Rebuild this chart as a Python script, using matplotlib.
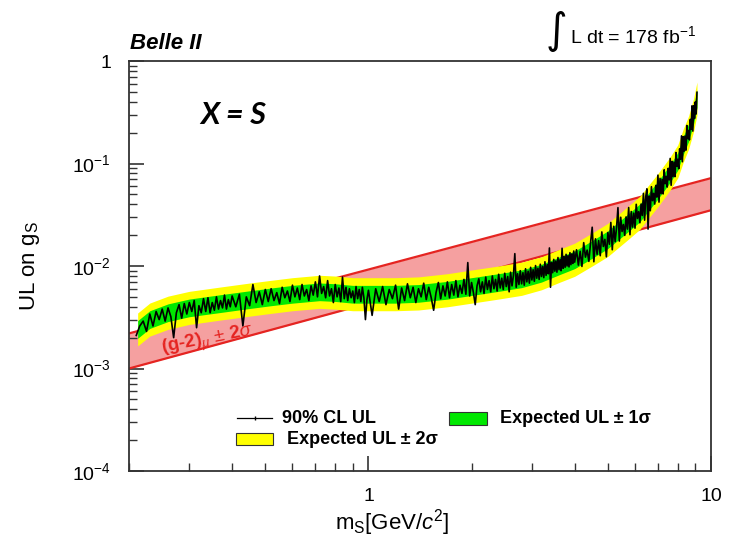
import matplotlib
matplotlib.use("Agg")
import matplotlib.pyplot as plt
from matplotlib.lines import Line2D
from matplotlib.patches import Rectangle
from matplotlib.ticker import FixedLocator, FixedFormatter, NullFormatter

plt.rcParams['font.family'] = ['Liberation Sans', 'DejaVu Sans']
plt.rcParams['mathtext.fontset'] = 'custom'
plt.rcParams['mathtext.rm'] = 'Liberation Sans'
plt.rcParams['mathtext.it'] = 'Liberation Sans:italic'
plt.rcParams['mathtext.bf'] = 'Liberation Sans:bold'

# (g-2)_mu +- 2 sigma band, edges read at the two ends of the plot
g2_mass = [0.2, 10.0]
g2_lo = [1.0e-3, 0.035]
g2_hi = [2.2e-3, 0.072]

# expected UL bands (units of 1e-3)
exp_mass = [0.212, 0.23, 0.26, 0.30, 0.37, 0.45, 0.52, 0.60, 0.72, 0.80, 0.90, 1.0,
            1.2, 1.4, 1.7, 2.0, 2.4, 2.8, 3.2, 3.6, 4.0, 4.5, 5.0, 5.7, 6.2, 6.6,
            7.0, 7.6, 8.0, 8.3, 8.6, 8.9, 9.1]
exp_1s_lo = [1.97, 2.46, 2.87, 3.20, 3.52, 3.85, 4.10, 4.34, 4.59, 4.51, 4.34, 4.34,
             4.34, 4.43, 4.75, 5.16, 5.66, 6.15, 6.97, 8.20, 9.43, 11.9, 14.8, 21.3, 27.0, 35.2,
             45.1, 65.6, 86.1, 123, 164, 246, 352]
exp_1s_hi = [2.93, 3.66, 4.27, 4.76, 5.25, 5.73, 6.10, 6.47, 6.83, 6.71, 6.47, 6.47,
             6.47, 6.59, 7.08, 7.69, 8.42, 9.15, 10.4, 12.2, 14.0, 17.7, 22.0, 31.7, 40.3, 52.5,
             67.1, 97.6, 128, 183, 244, 366, 525]
exp_2s_lo = [1.66, 2.07, 2.41, 2.69, 2.97, 3.24, 3.45, 3.66, 3.86, 3.79, 3.66, 3.66,
             3.66, 3.72, 4.00, 4.34, 4.76, 5.17, 5.86, 6.90, 7.93, 10.0, 12.4, 17.9, 22.8, 29.7,
             37.9, 55.2, 72.4, 103, 138, 207, 297]
exp_2s_hi = [3.48, 4.35, 5.08, 5.66, 6.24, 6.82, 7.25, 7.69, 8.12, 7.98, 7.69, 7.69,
             7.69, 7.83, 8.41, 9.14, 10.0, 10.9, 12.3, 14.5, 16.7, 21.0, 26.1, 37.7, 47.9, 62.4,
             79.8, 116, 152, 218, 290, 435, 624]

# observed 90% CL UL (units of 1e-3)
obs_mass = [
    # 0.21 - 0.40
    0.210, 0.215, 0.220, 0.225, 0.230, 0.235, 0.240, 0.245, 0.250, 0.255,
    0.260, 0.265, 0.270, 0.275, 0.280, 0.285, 0.290, 0.295, 0.300, 0.305,
    0.310, 0.315, 0.320, 0.325, 0.330, 0.335, 0.340, 0.345, 0.350, 0.355,
    0.360, 0.365, 0.370, 0.375, 0.380, 0.385, 0.390, 0.395, 0.400,
    # 0.41 - 1.00
    0.41, 0.42, 0.43, 0.44, 0.45, 0.46, 0.47, 0.48, 0.49, 0.50,
    0.51, 0.52, 0.53, 0.54, 0.55, 0.56, 0.57, 0.58, 0.59, 0.60,
    0.61, 0.62, 0.63, 0.64, 0.65, 0.66, 0.67, 0.68, 0.69, 0.70,
    0.71, 0.72, 0.73, 0.74, 0.75, 0.76, 0.77, 0.78, 0.79, 0.80,
    0.81, 0.82, 0.83, 0.84, 0.85, 0.86, 0.87, 0.88, 0.89, 0.90,
    0.91, 0.92, 0.93, 0.94, 0.95, 0.96, 0.97, 0.98, 0.99, 1.00,
    # 1.025 - 4.00
    1.025, 1.050, 1.075, 1.100, 1.125, 1.150, 1.175, 1.200, 1.225, 1.250,
    1.275, 1.300, 1.325, 1.350, 1.375, 1.400, 1.425, 1.450, 1.475, 1.500,
    1.525, 1.550, 1.575, 1.600, 1.625, 1.650, 1.675, 1.700, 1.725, 1.750,
    1.775, 1.800, 1.825, 1.850, 1.875, 1.900, 1.925, 1.950, 1.975, 2.000,
    2.025, 2.050, 2.075, 2.100, 2.125, 2.150, 2.175, 2.200, 2.225, 2.250,
    2.275, 2.300, 2.325, 2.350, 2.375, 2.400, 2.425, 2.450, 2.475, 2.500,
    2.525, 2.550, 2.575, 2.600, 2.625, 2.650, 2.675, 2.700, 2.725, 2.750,
    2.775, 2.800, 2.825, 2.850, 2.875, 2.900, 2.925, 2.950, 2.975, 3.000,
    3.025, 3.050, 3.075, 3.100, 3.125, 3.150, 3.175, 3.200, 3.225, 3.250,
    3.275, 3.300, 3.325, 3.350, 3.375, 3.400, 3.425, 3.450, 3.475, 3.500,
    3.525, 3.550, 3.575, 3.600, 3.625, 3.650, 3.675, 3.700, 3.725, 3.750,
    3.775, 3.800, 3.825, 3.850, 3.875, 3.900, 3.925, 3.950, 3.975, 4.000,
    # 4.05 - 9.10
    4.05, 4.10, 4.15, 4.20, 4.25, 4.30, 4.35, 4.40, 4.45, 4.50,
    4.55, 4.60, 4.65, 4.70, 4.75, 4.80, 4.85, 4.90, 4.95, 5.00,
    5.05, 5.10, 5.15, 5.20, 5.25, 5.30, 5.35, 5.40, 5.45, 5.50,
    5.55, 5.60, 5.65, 5.70, 5.75, 5.80, 5.85, 5.90, 5.95, 6.00,
    6.05, 6.10, 6.15, 6.20, 6.25, 6.30, 6.35, 6.40, 6.45, 6.50,
    6.55, 6.60, 6.65, 6.70, 6.75, 6.80, 6.85, 6.90, 6.95, 7.00,
    7.05, 7.10, 7.15, 7.20, 7.25, 7.30, 7.35, 7.40, 7.45, 7.50,
    7.55, 7.60, 7.65, 7.70, 7.75, 7.80, 7.85, 7.90, 7.95, 8.00,
    8.05, 8.10, 8.15, 8.20, 8.25, 8.30, 8.35, 8.40, 8.45, 8.50,
    8.55, 8.60, 8.65, 8.70, 8.75, 8.80, 8.85, 8.90, 8.95, 9.00,
    9.05, 9.10]
obs_ul = [
    2.1, 2.6, 2.9, 2.3, 3.4, 2.6, 3.6, 3.0, 3.8, 2.9,
    3.9, 3.2, 2.0, 3.5, 4.2, 3.1, 4.3, 3.4, 4.4, 3.6,
    4.6, 2.5, 4.1, 3.5, 4.8, 3.6, 4.9, 3.5, 4.4, 3.7,
    5.0, 3.8, 4.6, 3.9, 5.2, 3.8, 4.7, 4.0, 5.1,
    4.0, 5.3, 2.6, 5.0, 4.1, 6.6, 4.4, 5.6, 4.2, 5.9,
    4.5, 6.0, 4.6, 5.5, 4.3, 6.2, 4.9, 5.7, 4.5, 6.5,
    5.0, 6.1, 4.7, 6.6, 5.1, 5.9, 4.6, 6.4, 5.2, 7.0,
    5.0, 8.0, 5.4, 6.3, 4.9, 7.2, 5.1, 6.0, 4.4, 6.6,
    5.0, 6.1, 4.5, 7.8, 4.8, 6.2, 4.6, 6.0, 4.9, 5.7,
    4.4, 6.3, 4.8, 5.9, 4.5, 6.2, 4.9, 3.0, 4.7, 5.8,
    3.3, 6.0, 4.5, 6.3, 4.2, 5.9, 4.8, 6.5, 3.8, 6.1,
    4.6, 6.7, 4.9, 6.2, 4.4, 6.0, 5.0, 6.8, 4.7, 6.2,
    4.9, 3.7, 5.5, 6.9, 4.8, 6.4, 5.1, 7.0, 4.9, 6.6,
    5.2, 7.2, 5.0, 6.5, 5.4, 7.4, 5.3, 10.8, 5.1, 6.9,
    5.5, 4.2, 6.4, 7.5, 5.6, 7.0, 5.4, 7.8, 5.9, 7.2,
    5.6, 8.0, 6.0, 7.4, 5.7, 8.3, 6.1, 7.6, 5.9, 8.5,
    6.3, 7.9, 5.6, 8.7, 6.4, 8.1, 13.2, 6.2, 8.4, 6.6,
    9.0, 6.7, 8.6, 6.5, 9.4, 7.0, 8.9, 6.8, 9.7, 7.3,
    9.2, 7.1, 10.1, 7.6, 9.5, 7.4, 10.4, 7.9, 9.9, 7.7,
    11.0, 8.1, 10.3, 8.4, 15.0, 6.2, 10.8, 8.6, 11.6, 8.9,
    11.2, 8.7, 12.1, 9.2, 11.5, 9.0, 14.9, 9.5, 12.4, 9.7,
    13.0, 10.0, 12.6, 9.8, 13.5, 10.3, 13.1, 10.6, 14.0, 10.9,
    14.4, 10.2, 13.9, 9.9, 16.9, 12.2, 14.3, 11.1, 16.8, 23.9,
    11.0, 18.4, 13.0, 17.7, 12.6, 21.5, 15.5, 18.2, 12.3, 21.2,
    16.3, 26.6, 14.4, 24.4, 17.3, 23.7, 37.1, 17.5, 29.9, 21.7,
    25.4, 19.9, 30.1, 22.9, 37.2, 20.2, 34.0, 24.0, 32.8, 23.4,
    40.0, 29.1, 33.9, 26.4, 40.2, 31.1, 51.1, 28.0, 47.7, 56.6,
    22.9, 48.2, 34.6, 59.4, 43.4, 51.1, 40.2, 61.1, 47.0, 77.0,
    42.0, 71.6, 50.9, 70.1, 50.5, 86.8, 63.5, 75.0, 58.9, 89.7,
    69.1, 112, 61.3, 105, 74.7, 103, 74.4, 128, 93.8, 110,
    88.8, 139, 110, 186, 104, 183, 132, 185, 135, 235,
    175, 210, 170, 269, 215, 365, 207, 366, 275, 399,
    304, 495]

e3 = 1e-3

fig = plt.figure(figsize=(7.29, 5.45), dpi=100)
ax = fig.add_axes([129 / 729, 1 - 471 / 545, 582 / 729, 410 / 545])

# (g-2) band
ax.fill_between(g2_mass, g2_lo, g2_hi, color='#f5a0a0', lw=0, zorder=1)
ax.plot(g2_mass, g2_lo, color='#e52421', lw=1.6, zorder=2)
ax.plot(g2_mass, g2_hi, color='#e52421', lw=1.6, zorder=2)

# expected bands + observed
ax.fill_between(exp_mass, [v * e3 for v in exp_2s_lo], [v * e3 for v in exp_2s_hi],
                color='#ffff00', lw=0, zorder=3)
ax.fill_between(exp_mass, [v * e3 for v in exp_1s_lo], [v * e3 for v in exp_1s_hi],
                color='#00e800', lw=0, zorder=4)
ax.plot(obs_mass, [v * e3 for v in obs_ul], color='black', lw=1.2, zorder=5)

ax.set_xscale('log')
ax.set_yscale('log')
ax.set_xlim(0.2, 10)
ax.set_ylim(1e-4, 1)

ax.xaxis.set_major_locator(FixedLocator([1, 10]))
ax.xaxis.set_major_formatter(FixedFormatter(['1', '10']))
ax.xaxis.set_minor_locator(FixedLocator([0.2, 0.3, 0.4, 0.5, 0.6, 0.7, 0.8, 0.9,
                                         2, 3, 4, 5, 6, 7, 8, 9]))
ax.xaxis.set_minor_formatter(NullFormatter())
yt = [1e-4, 1e-3, 1e-2, 1e-1, 1]
ax.yaxis.set_major_locator(FixedLocator(yt))
ax.yaxis.set_major_formatter(FixedFormatter([r'$10^{-4}$', r'$10^{-3}$', r'$10^{-2}$',
                                             r'$10^{-1}$', '1']))
ax.yaxis.set_minor_locator(FixedLocator([m * 10.0 ** e for e in range(-4, 0) for m in range(2, 10)]))
ax.yaxis.set_minor_formatter(NullFormatter())

ax.tick_params(which='both', direction='in', top=False, right=False, color='#333333')
ax.tick_params(which='major', length=11, width=1.2, labelsize=14)
ax.tick_params(which='minor', length=5.5, width=1.0)
ax.tick_params(axis='y', pad=13)
ax.tick_params(axis='x', pad=12)
for sp in ax.spines.values():
    sp.set_linewidth(1.3)
    sp.set_color('#333333')

ax.set_xlabel(r'm$_\mathrm{S}$[GeV/$c^{2}$]', fontsize=16)
ax.xaxis.set_label_coords(0.452, -0.088)
ax.set_ylabel(r'UL on g$_\mathrm{S}$', fontsize=16)
ax.yaxis.set_label_coords(-0.15, 0.5)

# texts
fig.text(130 / 729, 1 - 49 / 545, 'Belle II', fontsize=16, fontweight='bold',
         fontstyle='italic', ha='left', va='baseline')
fig.text(200 / 729, 1 - 115 / 545, 'X = S', fontsize=22, fontweight='bold',
         fontstyle='italic', family=['Lato', 'DejaVu Sans'], ha='left', va='center')
fig.text(556 / 729, 1 - 31 / 545, '\u222b', fontsize=30, family=['DejaVu Sans'],
         ha='center', va='center')
fig.text(570 / 729, 1 - 43 / 545, r'L dt = 178 fb$^{-1}$', fontsize=14,
         ha='left', va='baseline')

ax.text(0.057, 0.288, r'(g-2)$_{\mu}$ $\pm$ 2$\sigma$', transform=ax.transAxes,
        color='#e52421', fontsize=13.5, fontweight='bold', rotation=11,
        rotation_mode='anchor', ha='left', va='baseline', zorder=6)

# legend drawn by hand (ROOT-style layout)
ax.add_line(Line2D([0.186, 0.246], [0.129, 0.129], color='black', lw=0.9,
                   transform=ax.transAxes, zorder=6))
ax.add_line(Line2D([0.216], [0.129], marker='|', markersize=3, color='black',
                   transform=ax.transAxes, zorder=6))
ax.text(0.263, 0.129, '90% CL UL', transform=ax.transAxes, fontsize=13,
        fontweight='bold', ha='left', va='center')
ax.add_patch(Rectangle((0.550, 0.112), 0.065, 0.032, transform=ax.transAxes,
                       facecolor='#00e800', edgecolor='#333333', lw=0.8, zorder=6))
ax.text(0.637, 0.129, 'Expected UL \u00b1 1\u03c3', transform=ax.transAxes, fontsize=13,
        fontweight='bold', ha='left', va='center')
ax.add_patch(Rectangle((0.184, 0.063), 0.064, 0.030, transform=ax.transAxes,
                       facecolor='#ffff00', edgecolor='#333333', lw=0.8, zorder=6))
ax.text(0.272, 0.078, 'Expected UL \u00b1 2\u03c3', transform=ax.transAxes, fontsize=13,
        fontweight='bold', ha='left', va='center')

fig.savefig('out.png', dpi=100)
